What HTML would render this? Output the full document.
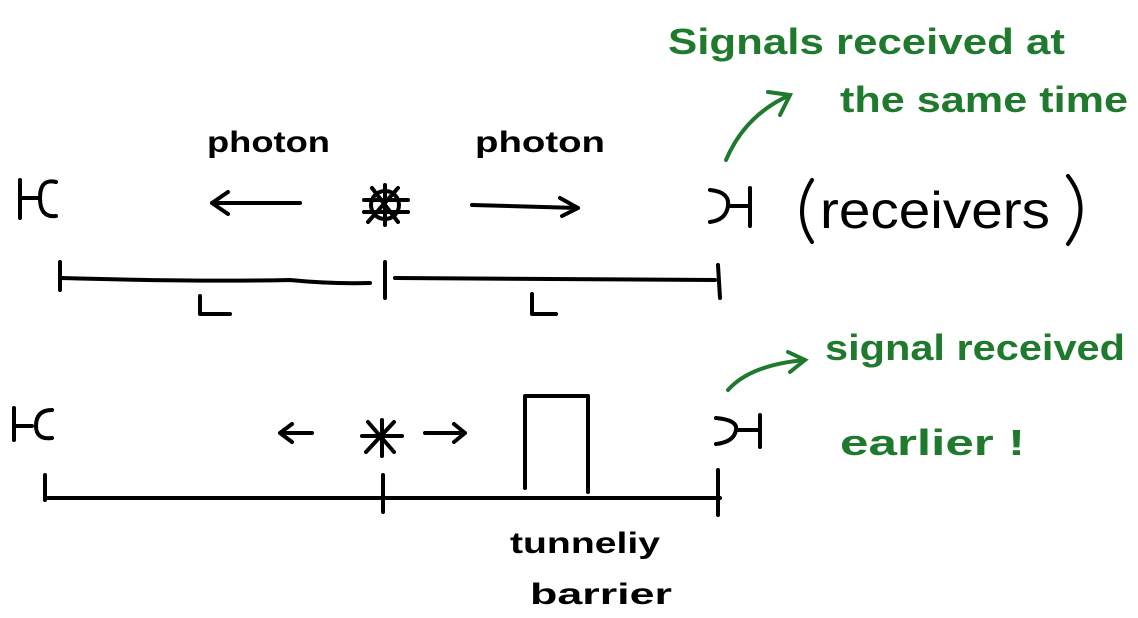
<!DOCTYPE html>
<html><head><meta charset="utf-8"><style>
html,body{margin:0;padding:0;background:#fff;}
svg{display:block;}
text{font-family:"Liberation Sans",sans-serif;}
</style></head><body>
<svg width="1138" height="618" viewBox="0 0 1138 618" xmlns="http://www.w3.org/2000/svg">
<g fill="none" stroke="#000" stroke-width="4" stroke-linecap="round" stroke-linejoin="round">
<path d="M20 180 L20 218 M20 198 L40 198 M56 182 Q40 178 40 198 Q40 218 56 216"/>
<path d="M300 203 L212 203 M228 192 L212 203 L228 214"/>
<path d="M372 188 L398 222 M398 188 L368 222 M364 200 L408 200 M364 212 L408 212 M385 185 L385 225"/>
<circle cx="385" cy="205" r="14"/>
<path d="M472 205 L578 208 M560 198 L578 208 L562 216"/>
<path d="M710 190 Q730 192 728 206 Q726 220 710 222 M728 206 L750 206 M750 188 L750 226"/>
<path d="M812 180 Q792 212 812 242 M1068 176 Q1093 208 1068 244"/>
<path d="M60 262 L60 290 M62 278 Q200 282 290 280 Q330 284 370 283 M385 262 L385 298 M395 278 L715 280 M718 265 L720 298"/>
<path d="M200 296 L200 314 L230 314 M532 294 L532 314 L556 314"/>
<path d="M14 408 L14 440 M14 426 L32 426 M52 410 Q36 410 36 426 Q36 440 52 438"/>
<path d="M312 433 L280 433 M292 424 L280 433 L292 442"/>
<path d="M368 422 L394 452 M394 422 L366 452 M362 436 L402 436 M382 420 L382 456"/>
<path d="M425 433 L465 433 M454 424 L465 433 L454 442"/>
<path d="M525 488 L525 396 L588 396 L588 492"/>
<path d="M716 418 Q738 420 736 430 Q734 442 716 444 M736 430 L760 430 M760 415 L760 447"/>
<path d="M45 475 L45 500 M45 498 L720 498 M383 475 L383 512 M718 470 L718 515"/>
</g>
<g fill="#000" font-weight="bold">
<text x="207" y="152" font-size="30" textLength="123" lengthAdjust="spacingAndGlyphs">photon</text>
<text x="475" y="152" font-size="30" textLength="130" lengthAdjust="spacingAndGlyphs">photon</text>
<text x="820" y="228" font-size="52" font-weight="normal" textLength="230" lengthAdjust="spacingAndGlyphs">receivers</text>
<text x="510" y="553" font-size="30" textLength="150" lengthAdjust="spacingAndGlyphs">tunneliy</text>
<text x="530" y="604" font-size="30" textLength="142" lengthAdjust="spacingAndGlyphs">barrier</text>
</g>
<g fill="none" stroke="#1f7a2e" stroke-width="4" stroke-linecap="round">
<path d="M726 160 Q745 115 790 95 M768 92 L790 95 L780 115"/>
<path d="M728 390 Q750 365 805 360 M788 352 L805 360 L790 372"/>
</g>
<g fill="#1f7a2e" font-size="36" font-weight="bold">
<text x="668" y="54" textLength="397" lengthAdjust="spacingAndGlyphs">Signals received at</text>
<text x="840" y="112" textLength="288" lengthAdjust="spacingAndGlyphs">the same time</text>
<text x="825" y="360" textLength="300" lengthAdjust="spacingAndGlyphs">signal received</text>
<text x="840" y="455" textLength="185" lengthAdjust="spacingAndGlyphs">earlier !</text>
</g>
</svg>
</body></html>
